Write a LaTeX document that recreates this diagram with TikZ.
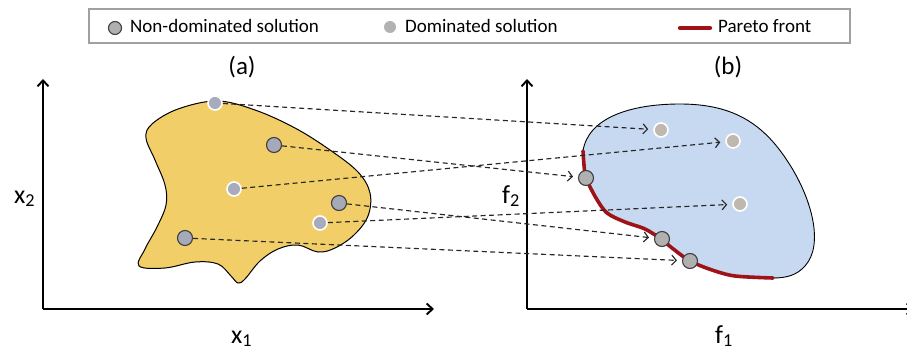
\documentclass[tikz,border=0pt]{standalone}
\usepackage{fontspec}
\setmainfont{Carlito}
\usetikzlibrary{arrows.meta}
\definecolor{blobyellow}{RGB}{242,206,104}
\definecolor{blobblue}{RGB}{198,217,241}
\definecolor{paretored}{RGB}{158,18,24}
\definecolor{ndleft}{RGB}{166,169,184}
\definecolor{ndright}{RGB}{176,176,176}
\definecolor{dleft}{RGB}{168,171,190}
\definecolor{dright}{RGB}{190,184,174}
\definecolor{legendgray}{RGB}{160,160,160}
\tikzset{
  nondom/.style={circle, draw=black!75, line width=1.1pt, minimum size=15pt, inner sep=0pt},
  dom/.style={circle, draw=white, line width=1.6pt, minimum size=14pt, inner sep=0pt},
  mapline/.style={draw=black!85, line width=1.15pt, dash pattern=on 5pt off 3.5pt,
    -{Straight Barb[length=4.5pt,width=10pt]}, shorten >=5pt},
  axisline/.style={line width=1.9pt, -{Straight Barb[length=6pt,width=11pt]}},
  frontline/.style={draw=paretored, line width=3.6pt, line cap=round},
  legtext/.style={font=\fontsize{19}{22}\selectfont, inner sep=0pt, anchor=base west},
  axlabel/.style={font=\fontsize{26}{30}\selectfont, inner sep=0pt, anchor=base west},
  panlabel/.style={font=\fontsize{25}{30}\selectfont, inner sep=0pt, anchor=base},
}
\begin{document}
\begin{tikzpicture}[x=1pt,y=-1pt]
\useasboundingbox (0,0) rectangle (907,350);

% legend
\draw[legendgray, line width=1.3pt] (89,9) rectangle (850,43);
\node[nondom, fill=ndright, minimum size=13pt] (lnd) at (115,28) {};
\node[legtext] (lndt) at (130,33) {Non-dominated solution};
\node[circle, fill=black!30, minimum size=12pt, inner sep=0pt] (ld) at (390,27) {};
\node[legtext] (ldt) at (405,33) {Dominated solution};
\coordinate (lpa) at (680,28);
\coordinate (lpb) at (710,28);
\draw[frontline, line width=4.2pt] (lpa) -- (lpb);
\node[legtext] (lpt) at (718,33) {Pareto front};

% panel labels
\node[panlabel] (pa) at (242,75) {(a)};
\node[panlabel] (pb) at (728,75) {(b)};

% axes
\coordinate (o1) at (43,309);
\coordinate (y1) at (43,79);
\coordinate (x1) at (434,309);
\draw[axisline] (o1) -- (y1);
\draw[axisline] (o1) -- (x1);
\coordinate (o2) at (527,309);
\coordinate (y2) at (527,79);
\coordinate (x2) at (914,309);
\draw[axisline] (o2) -- (y2);
\draw[axisline] (o2) -- (x2);

\node[axlabel] (lx2) at (14,203) {x\textsubscript{2}};
\node[axlabel] (lx1) at (231,343) {x\textsubscript{1}};
\node[axlabel] (lf2) at (502,203) {f\textsubscript{2}};
\node[axlabel] (lf1) at (715,343) {f\textsubscript{1}};

% decision space blob
\draw[fill=blobyellow, line width=1pt] plot[smooth cycle, tension=0.6] coordinates {
  (217,101) (255,110) (295,128) (330,150) (358,172) (370,193) (368,216)
  (354,235) (335,248) (318,252) (298,245) (278,249) (260,261) (245,279)
  (238,283) (231,276) (218,264) (195,262) (165,268) (139,266) (145,249)
  (157,227) (166,205) (165,185) (155,160) (146,138) (152,124) (178,109)};

% objective space blob
\fill[blobblue] (583,151) .. controls (588,118) and (630,104) .. (680,104)
  .. controls (735,104) and (765,125) .. (790,165)
  .. controls (812,200) and (824,245) .. (805,266)
  .. controls (797,275) and (787,278) .. (773,278)
  -- plot[smooth, tension=0.5] coordinates {
  (773,278) (735,276) (712,270) (690,261) (672,248) (661,239) (645,229)
  (625,222) (607,213) (596,198) (586,178) (584,165) (583,151)} -- cycle;
\draw[line width=0.9pt] (583,151) .. controls (588,118) and (630,104) .. (680,104)
  .. controls (735,104) and (765,125) .. (790,165)
  .. controls (812,200) and (824,245) .. (805,266)
  .. controls (797,275) and (787,278) .. (773,278);
\draw[frontline] plot[smooth, tension=0.5] coordinates {
  (773,278) (735,276) (712,270) (690,261) (672,248) (661,239) (645,229)
  (625,222) (607,213) (596,198) (586,178) (584,165) (583,151)};

% points in decision space
\node[dom, fill=dleft] (a1) at (215,103) {};
\node[nondom, fill=ndleft] (a2) at (274,145) {};
\node[dom, fill=dleft] (a3) at (234,189) {};
\node[nondom, fill=ndleft] (a4) at (339,203) {};
\node[dom, fill=dleft] (a5) at (320,223) {};
\node[nondom, fill=ndleft] (a6) at (185,238) {};

% points in objective space
\node[dom, fill=dright] (b1) at (661,130) {};
\node[nondom, fill=ndright] (b2) at (586,178) {};
\node[dom, fill=dright] (b3) at (733,141) {};
\node[nondom, fill=ndright] (b4) at (662,239) {};
\node[dom, fill=dright] (b5) at (740,204) {};
\node[nondom, fill=ndright] (b6) at (690,261) {};

% mappings
\draw[mapline] (a1) -- (b1);
\draw[mapline] (a2) -- (b2);
\draw[mapline] (a3) -- (b3);
\draw[mapline] (a4) -- (b4);
\draw[mapline] (a5) -- (b5);
\draw[mapline] (a6) -- (b6);
\end{tikzpicture}
\end{document}
